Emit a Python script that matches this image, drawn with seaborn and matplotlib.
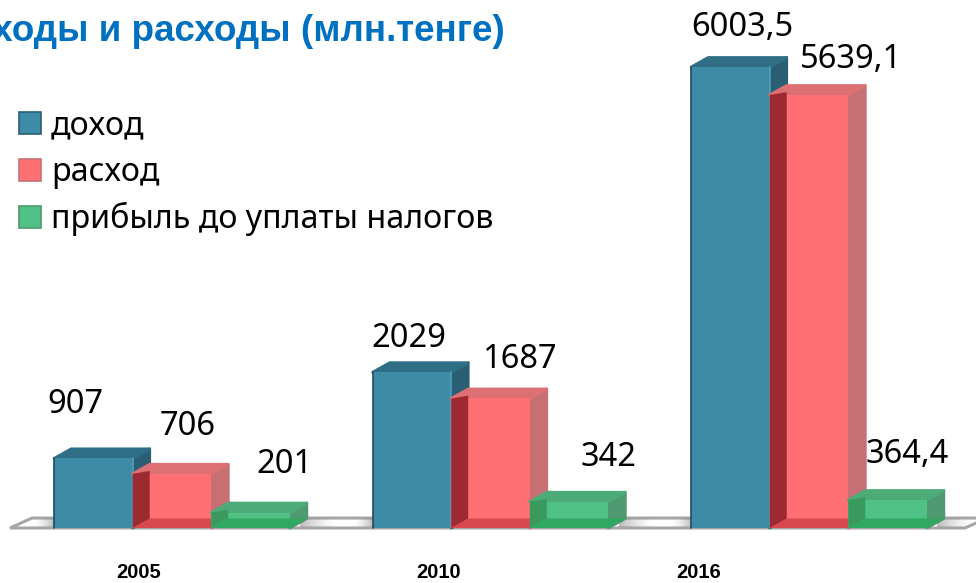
import numpy as np
import pandas as pd
import matplotlib
matplotlib.use("Agg")
import matplotlib.pyplot as plt
import seaborn as sns
from matplotlib.patches import Patch, Polygon

years = ["2005", "2010", "2016"]
series = ["доход", "расход", "прибыль до уплаты налогов"]
dohod = [907, 2029, 6003.5]
rashod = [706, 1687, 5639.1]
pribyl = [201, 342, 364.4]
value_labels = [["907", "2029", "6003,5"],
                ["706", "1687", "5639,1"],
                ["201", "342", "364,4"]]

front_cols = ["#3d8ba7", "#ff7074", "#4fc184"]
top_cols = ["#2f6e85", "#dc7073", "#4dab78"]
side_cols = ["#2a5f73", "#c77073", "#4f9a70"]
bottom_cols = ["#2a5f73", "#d9484e", "#2fa862"]
left_cols = [None, "#9c2a30", "#3a9a5e"]

sns.set_theme(style="white")
plt.rcParams["font.family"] = ["Noto Sans", "DejaVu Sans"]

df = pd.DataFrame({
    "year": years * 3,
    "series": np.repeat(series, 3),
    "value": dohod + rashod + pribyl,
})

W, H = 976, 583
fig = plt.figure(figsize=(W / 100, H / 100), dpi=100)
ax = fig.add_axes([0, 0, 1, 1])

sns.barplot(data=df, x="year", y="value", hue="series", order=years, hue_order=series,
            palette=front_cols, width=0.74, gap=0, saturation=1, legend=False, ax=ax)

# pixel scale of the picture: groups 318.5 px apart, 6003.5 -> 461 px
px_x = 1 / 318.5
px_y = 6003.5 / 461
ax.set_axis_off()

dx = 17 * px_x
dy = 9.5 * px_y

# floor
x0, x1 = -162 * px_x, 793 * px_x
floor = Polygon([(x0, 0), (x1, 0), (x1 + 1.3 * dx, dy * 1.05), (x0 + 1.3 * dx, dy * 1.05)],
                closed=True, facecolor="white", edgecolor="#a6a6a6", lw=2.2, zorder=1)
ax.add_patch(floor)

# soft shadows on the floor beside every group
grad = np.zeros((1, 64, 4))
grad[..., :3] = 0.55
grad[..., 3] = np.linspace(0, 0.7, 64) ** 1.5
bars = list(ax.patches)[:9]
for k in range(3):
    left = bars[k].get_x()
    right = bars[6 + k].get_x() + bars[6 + k].get_width() + dx
    ax.imshow(grad, extent=(left - 20 * px_x, left, 0.1 * dy, 0.95 * dy), aspect="auto", zorder=1.5)
    ax.imshow(grad[:, ::-1], extent=(right - dx * 0.4, right + 30 * px_x, 0.1 * dy, 0.95 * dy),
              aspect="auto", zorder=1.5)
ax.set_xlim(-172 * px_x, (W - 172) * px_x)
ax.set_ylim(-(H - 528) * px_y, 528 * px_y)

# seaborn draws the front faces, the depth is added from the same bars
for i in range(3):
    z = 2 + i
    for j in range(3):
        bar = bars[i * 3 + j]
        x, w, h = bar.get_x(), bar.get_width(), bar.get_height()
        base = dict(joinstyle="round", lw=2, zorder=z)
        ax.add_patch(Polygon([(x + w, 0), (x + w + dx, dy), (x + w + dx, h + dy), (x + w, h)],
                             fc=side_cols[i], ec=side_cols[i], **base))
        ax.add_patch(Polygon([(x, h), (x + w, h), (x + w + dx, h + dy), (x + dx, h + dy)],
                             fc=top_cols[i], ec=top_cols[i], **base))
        bar.set_zorder(z + 0.1)
        bar.set_edgecolor("none")
        if i == 0:
            ax.plot([x, x], [0, h], color="#1f4a5a", lw=1.2, zorder=z + 0.2)
            ax.plot([x + w, x + w], [0, h], color="#4f9fbb", lw=1.2, zorder=z + 0.2)
        else:
            # floor band and neighbour's side seen through the front face
            ax.add_patch(Polygon([(x, 0), (x + w, 0), (x + w + dx, dy), (x + dx, dy)],
                                 fc=bottom_cols[i], ec="none", zorder=z + 0.12))
            ax.add_patch(Polygon([(x, 0), (x + dx, dy), (x + dx, h + dy * 0.3), (x, h)],
                                 fc=left_cols[i], ec="none", zorder=z + 0.15))

# value labels, placed from the bars
label_shift = [[(-18, 45), (-3, 25), (12, 31)],
               [(16, 39), (29, 30), (42, 27)],
               [(34, 40), (39, 36), (20, 37)]]
for i in range(3):
    for j in range(3):
        bar = bars[i * 3 + j]
        sx, sy = label_shift[i][j]
        ax.text(bar.get_x() + bar.get_width() / 2 + sx * px_x, bar.get_height() + sy * px_y,
                value_labels[i][j], ha="center", va="baseline", fontsize=23.5, color="black", zorder=10)

# year labels are not centred under the groups in the original
year_x = [-33, 267, 527]
for yr, xp in zip(years, year_x):
    ax.text(xp * px_x, -50 * px_y, yr, ha="center", va="baseline", fontsize=14.5,
            fontweight="bold", family="Liberation Sans", color="black", zorder=10)

ax.text(505 / W, 1 - 41 / H, "Доходы и расходы (млн.тенге)", transform=ax.transAxes, ha="right",
        va="baseline", fontsize=26.5, fontweight="bold", family="Liberation Sans", color="#0070c0", zorder=10)

handles = [Patch(facecolor=c, edgecolor=e, lw=1.2) for c, e in zip(front_cols, side_cols)]
ax.legend(handles, series, loc="upper left", bbox_to_anchor=(9 / W, 1 - 100 / H), frameon=False,
          fontsize=23.2, labelcolor="black", handlelength=0.68, handleheight=0.68, handletextpad=0.32,
          labelspacing=0.41, borderpad=0.3, borderaxespad=0)

fig.savefig("out.png", dpi=100)
